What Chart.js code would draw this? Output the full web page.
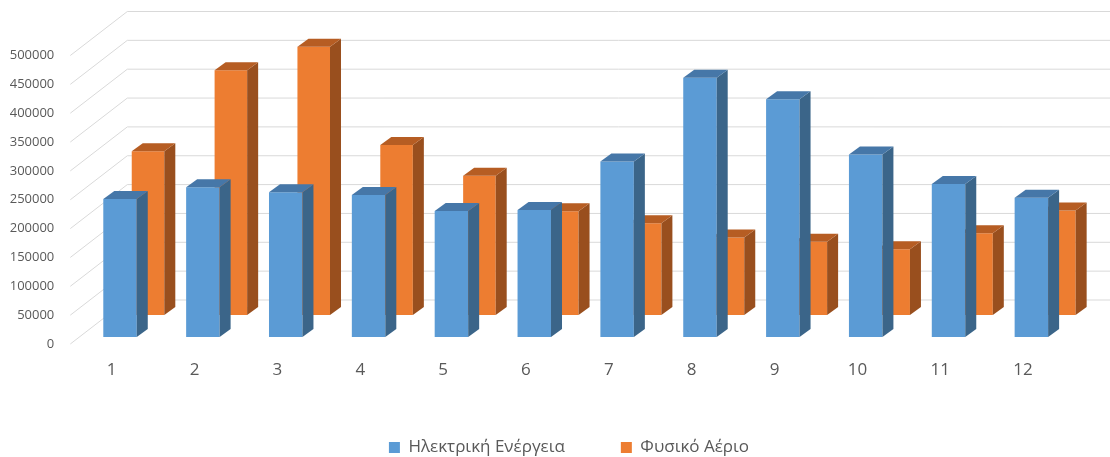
<!DOCTYPE html>
<html>
<head>
<meta charset="utf-8">
<script src="https://cdn.jsdelivr.net/npm/chart.js@4/dist/chart.umd.min.js"></script>
<style>
  html, body { margin: 0; padding: 0; background: #fff; }
  #wrap { width: 1110px; height: 457px; }
</style>
</head>
<body>
<div id="wrap"><canvas id="chart" width="1110" height="457"></canvas></div>
<script>
// =========================
// Data
// =========================
const months = ["1", "2", "3", "4", "5", "6", "7", "8", "9", "10", "11", "12"];
const electricity = [239000, 259500, 251000, 246000, 218500, 220000, 304000, 449500, 412000, 316500, 265000, 241500];
const naturalGas = [284000, 424000, 465000, 294500, 241500, 180000, 159000, 134500, 127000, 114000, 141500, 181000];
const seriesNames = ["Ηλεκτρική Ενέργεια", "Φυσικό Αέριο"];

const Y_MAX = 500000;
const Y_STEP = 50000;

// =========================
// 3D layout (oblique view, like Excel's 3-D column)
// =========================
const FRONT = { left: 70.3, right: 1064.5, top: 55.5, bottom: 344 };
const DEPTH_BLUE = { dx: 8.3, dy: -7 };
const DEPTH_ORANGE = { dx: 36.3, dy: -29 };
const DEPTH_WALL = { dx: 57, dy: -44 };
const BAR_SIDE = { dx: 11, dy: 8 };
const GRID_COLOR = "#d9d9d9";
const TEXT_COLOR = "#595959";

const faceColors = {
  0: { side: "#3b6589", top: "#4677a8" },
  1: { side: "#994f1e", top: "#b65d23" },
};

function placeScale(scale, depth, horizontal) {
  if (horizontal) {
    scale.left = FRONT.left + depth.dx;
    scale.right = FRONT.right + depth.dx;
    scale.width = scale.right - scale.left;
  } else {
    scale.top = FRONT.top + depth.dy;
    scale.bottom = FRONT.bottom + depth.dy;
    scale.height = scale.bottom - scale.top;
  }
  scale.configure();
}

const layoutPlugin = {
  id: "layout3d",
  afterLayout(chart) {
    const s = chart.scales;
    s.y.left = 0;
    s.y.right = FRONT.left;
    s.y.width = FRONT.left;
    placeScale(s.y, { dx: 0, dy: 0 }, false);
    s.x.top = FRONT.bottom;
    s.x.bottom = FRONT.bottom + 60;
    s.x.height = 60;
    placeScale(s.x, { dx: 0, dy: 0 }, true);
    placeScale(s.xb, DEPTH_BLUE, true);
    placeScale(s.yb, DEPTH_BLUE, false);
    placeScale(s.xo, DEPTH_ORANGE, true);
    placeScale(s.yo, DEPTH_ORANGE, false);
    placeScale(s.yw, DEPTH_WALL, false);

    const lg = chart.legend;
    const shiftX = 14;
    const legendTop = 447.5 - lg.options.labels.padding - 8.5;
    lg.left += shiftX;
    lg.right += shiftX;
    lg.bottom = legendTop + lg.height;
    lg.top = legendTop;
  },
  beforeDatasetsDraw(chart) {
    const { ctx } = chart;
    const yF = chart.scales.y;
    const yW = chart.scales.yw;
    const backX = FRONT.left + DEPTH_WALL.dx;
    ctx.save();
    ctx.strokeStyle = GRID_COLOR;
    ctx.lineWidth = 1;
    for (let v = 0; v <= Y_MAX; v += Y_STEP) {
      const yf = yF.getPixelForValue(v);
      const yb = yW.getPixelForValue(v);
      ctx.beginPath();
      ctx.moveTo(FRONT.left, yf);
      ctx.lineTo(backX, yb);
      ctx.lineTo(chart.width, yb);
      ctx.stroke();
    }
    ctx.restore();
  },
  afterDatasetDraw(chart, args) {
    const { ctx } = chart;
    const colors = faceColors[args.index];
    ctx.save();
    args.meta.data.forEach((bar) => {
      const { x, y, base, width } = bar.getProps(["x", "y", "base", "width"], true);
      const l = x - width / 2;
      const r = x + width / 2;
      // side face
      ctx.fillStyle = colors.side;
      ctx.beginPath();
      ctx.moveTo(r, y);
      ctx.lineTo(r + BAR_SIDE.dx, y - BAR_SIDE.dy);
      ctx.lineTo(r + BAR_SIDE.dx, base - BAR_SIDE.dy);
      ctx.lineTo(r, base);
      ctx.closePath();
      ctx.fill();
      // top face
      ctx.fillStyle = colors.top;
      ctx.beginPath();
      ctx.moveTo(l, y);
      ctx.lineTo(l + BAR_SIDE.dx, y - BAR_SIDE.dy);
      ctx.lineTo(r + BAR_SIDE.dx, y - BAR_SIDE.dy);
      ctx.lineTo(r, y);
      ctx.closePath();
      ctx.fill();
    });
    ctx.restore();
  },
};

const hiddenLinear = { type: "linear", display: false, min: 0, max: Y_MAX };
const hiddenCategory = { type: "category", display: false, offset: true };

new Chart(document.getElementById("chart"), {
  type: "bar",
  data: {
    labels: months,
    datasets: [
      {
        label: seriesNames[0],
        data: electricity,
        backgroundColor: "#5b9bd5",
        xAxisID: "xb",
        yAxisID: "yb",
        grouped: false,
        barPercentage: 0.404,
        categoryPercentage: 1,
        clip: false,
      },
      {
        label: seriesNames[1],
        data: naturalGas,
        backgroundColor: "#ed7d31",
        xAxisID: "xo",
        yAxisID: "yo",
        grouped: false,
        barPercentage: 0.393,
        categoryPercentage: 1,
        clip: false,
      },
    ],
  },
  options: {
    responsive: false,
    animation: false,
    plugins: {
      legend: {
        position: "bottom",
        labels: {
          boxWidth: 11,
          boxHeight: 11,
          padding: 56,
          color: TEXT_COLOR,
          font: { family: "'Open Sans'", size: 17 },
        },
      },
      tooltip: { enabled: false },
    },
    scales: {
      x: {
        type: "category",
        position: "bottom",
        offset: true,
        grid: { display: false, drawTicks: false },
        border: { display: false },
        ticks: {
          color: TEXT_COLOR,
          padding: 16,
          font: { family: "'Open Sans'", size: 17 },
          maxRotation: 0,
        },
      },
      y: {
        type: "linear",
        position: "left",
        min: 0,
        max: Y_MAX,
        grid: { display: false, drawTicks: false },
        border: { display: false },
        ticks: {
          stepSize: Y_STEP,
          padding: 16,
          color: TEXT_COLOR,
          font: { family: "'Open Sans'", size: 13 },
          callback: (value) => String(value),
        },
      },
      xb: hiddenCategory,
      yb: hiddenLinear,
      xo: hiddenCategory,
      yo: hiddenLinear,
      yw: hiddenLinear,
    },
  },
  plugins: [layoutPlugin],
});
</script>
</body>
</html>
